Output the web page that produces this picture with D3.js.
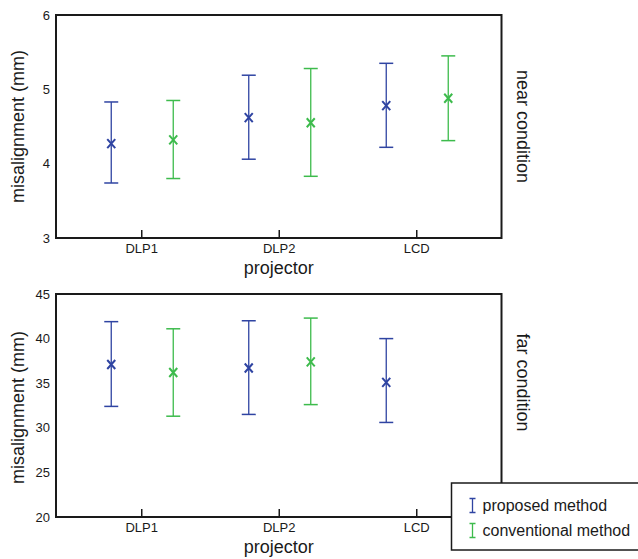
<!DOCTYPE html>
<html>
<head>
<meta charset="utf-8">
<script src="https://cdn.jsdelivr.net/npm/d3@7/dist/d3.min.js"></script>
<style>
  html, body { margin: 0; padding: 0; background: #fff; }
  svg { display: block; font-family: "Liberation Sans", Arial, sans-serif; }
</style>
</head>
<body>
<svg id="chart" width="638" height="559"></svg>
<script>
// ---- data ----
const categories = ["DLP1", "DLP2", "LCD"];
const seriesNames = ["proposed method", "conventional method"];

const nearProposedMean = [4.27, 4.62, 4.78];
const nearProposedLow  = [3.74, 4.06, 4.22];
const nearProposedHigh = [4.83, 5.19, 5.35];
const nearConvMean     = [4.32, 4.55, 4.88];
const nearConvLow      = [3.80, 3.83, 4.31];
const nearConvHigh     = [4.85, 5.28, 5.45];

const farProposedMean = [37.1, 36.7, 35.1];
const farProposedLow  = [32.4, 31.5, 30.6];
const farProposedHigh = [41.9, 42.0, 40.0];
const farConvMean     = [36.2, 37.4, null];
const farConvLow      = [31.3, 32.6, null];
const farConvHigh     = [41.1, 42.3, null];

const nearTicks = [3, 4, 5, 6];
const farTicks = [20, 25, 30, 35, 40, 45];

// ---- layout ----
const svg = d3.select("#chart");
const colors = d3.scaleOrdinal().domain(seriesNames).range(["#2f44a2", "#3dbb4c"]);
const offsets = d3.scaleOrdinal().domain(seriesNames).range([-30, 32]);

const left = 56, right = 501.5;
const x = d3.scalePoint().domain(categories).range([left, right]).padding(0.62);

function rows(mean, low, high, series) {
  return categories.map((c, i) => ({ cat: c, series, mean: mean[i], low: low[i], high: high[i] }))
    .filter(d => d.mean != null);
}

function panel(cfg) {
  const y = d3.scaleLinear().domain(cfg.domain).range([cfg.bottom, cfg.top]);
  const g = svg.append("g");

  // frame
  g.append("rect")
    .attr("x", left).attr("y", cfg.top)
    .attr("width", right - left).attr("height", cfg.bottom - cfg.top)
    .attr("fill", "none").attr("stroke", "#1a1a1a").attr("stroke-width", 2);

  // x axis (ticks inward)
  const xa = g.append("g").attr("transform", `translate(0,${cfg.bottom})`)
    .call(d3.axisBottom(x).tickSize(-8).tickPadding(6));
  xa.select(".domain").remove();
  xa.selectAll("line").attr("stroke", "#1a1a1a").attr("stroke-width", 1.5);
  xa.selectAll("text").attr("font-size", 13).attr("fill", "#1a1a1a")
    .attr("font-family", "'Liberation Sans', Arial, sans-serif");

  // y axis labels only
  const ya = g.append("g").attr("transform", `translate(${left},0)`)
    .call(d3.axisLeft(y).tickValues(cfg.ticks).tickSize(0).tickPadding(6).tickFormat(d3.format("d")));
  ya.select(".domain").remove();
  ya.selectAll("text").attr("font-size", 13).attr("fill", "#1a1a1a")
    .attr("font-family", "'Liberation Sans', Arial, sans-serif");

  // error bars
  const data = cfg.data;
  const eb = g.selectAll(".eb").data(data).join("g")
    .attr("transform", d => `translate(${x(d.cat) + offsets(d.series)},0)`)
    .attr("stroke", d => colors(d.series));
  eb.append("line").attr("x1", 0).attr("x2", 0)
    .attr("y1", d => y(d.low)).attr("y2", d => y(d.high)).attr("stroke-width", 1.3);
  eb.append("line").attr("x1", -7).attr("x2", 7)
    .attr("y1", d => y(d.high)).attr("y2", d => y(d.high)).attr("stroke-width", 1.5);
  eb.append("line").attr("x1", -7).attr("x2", 7)
    .attr("y1", d => y(d.low)).attr("y2", d => y(d.low)).attr("stroke-width", 1.5);
  eb.append("path")
    .attr("d", d => { const m = y(d.mean); return `M-4,${m-4.5}L4,${m+4.5}M4,${m-4.5}L-4,${m+4.5}`; })
    .attr("fill", "none").attr("stroke-width", 2);

  // axis titles
  g.append("text")
    .attr("transform", `translate(18,${(cfg.top + cfg.bottom) / 2 + cfg.ylabOff}) rotate(-90)`)
    .attr("text-anchor", "middle").attr("dy", "0.35em")
    .attr("font-size", 18).attr("fill", "#1a1a1a").text("misalignment (mm)");
  g.append("text")
    .attr("x", (left + right) / 2).attr("y", cfg.bottom + 36)
    .attr("text-anchor", "middle")
    .attr("font-size", 18).attr("fill", "#1a1a1a").text("projector");
  g.append("text")
    .attr("transform", `translate(523,${cfg.condY}) rotate(90)`)
    .attr("text-anchor", "middle").attr("dy", "0.35em")
    .attr("font-size", 18).attr("fill", "#1a1a1a").text(cfg.condition);
}

panel({
  top: 15, bottom: 238, domain: [3, 6], ticks: nearTicks, ylabOff: 0,
  condition: "near condition", condY: 126.5,
  data: rows(nearProposedMean, nearProposedLow, nearProposedHigh, seriesNames[0])
    .concat(rows(nearConvMean, nearConvLow, nearConvHigh, seriesNames[1]))
});

panel({
  top: 294, bottom: 517, domain: [20, 45], ticks: farTicks, ylabOff: 2,
  condition: "far condition", condY: 382.5,
  data: rows(farProposedMean, farProposedLow, farProposedHigh, seriesNames[0])
    .concat(rows(farConvMean, farConvLow, farConvHigh, seriesNames[1]))
});

// legend
const lg = svg.append("g");
lg.append("rect").attr("x", 451.5).attr("y", 483).attr("width", 200).attr("height", 67)
  .attr("fill", "#fff").attr("stroke", "#1a1a1a").attr("stroke-width", 1.5);
const li = lg.selectAll(".li").data(seriesNames).join("g")
  .attr("transform", (d, i) => `translate(472.5,${505.5 + i * 25})`);
li.append("path")
  .attr("d", "M-3,-7H3M0,-7V7M-3,7H3")
  .attr("fill", "none").attr("stroke", d => colors(d)).attr("stroke-width", 1.3);
li.append("text").attr("x", 10).attr("dy", "0.35em")
  .attr("font-size", 16).attr("fill", "#1a1a1a").text(d => d);
</script>
</body>
</html>
